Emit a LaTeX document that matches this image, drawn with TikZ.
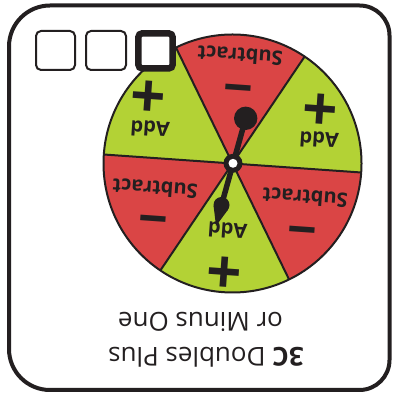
\documentclass[tikz,border=0pt]{standalone}
\usepackage{fontspec}
\setmainfont{Open Sans}
\definecolor{wred}{RGB}{218,69,69}
\definecolor{wgreen}{RGB}{179,210,53}
\definecolor{ink}{RGB}{35,31,32}
\begin{document}
\begin{tikzpicture}[x=1pt,y=1pt,
  lab/.style={font=\bfseries\fontsize{20}{20}\selectfont, rotate=176, inner sep=0, text=ink},
  plussym/.style={font=\bfseries\fontsize{62}{62}\selectfont, rotate=176, inner sep=0, text=ink},
  minussym/.style={font=\bfseries\fontsize{52}{52}\selectfont, rotate=176, inner sep=0, text=ink},
  titletext/.style={font=\fontsize{26}{26}\selectfont, rotate=180, inner sep=0, text=ink},
  divline/.style={draw=ink, line width=2pt},
  checkbox/.style={draw=ink, fill=white, line width=2pt, rounded corners=5pt},
  frame/.style={draw=ink, line width=4pt}]
\useasboundingbox (0,0) rectangle (393,398);
% outer frame
\draw[frame] (50,392.5) -- (359.5,392.5) arc[start angle=90,end angle=0,radius=30]
  -- (389.5,38) arc[start angle=0,end angle=-90,radius=30]
  -- (50,8) arc[start angle=270,end angle=180,radius=41]
  -- (9,351.5) arc[start angle=180,end angle=90,radius=41] -- cycle;
% wheel
\coordinate (C) at (232.5,234.5);
\fill[wgreen] (C) -- ++(-4:129) arc[start angle=-4,end angle=56,radius=129] -- cycle;
\fill[wred] (C) -- ++(56:129) arc[start angle=56,end angle=116,radius=129] -- cycle;
\fill[wgreen] (C) -- ++(116:129) arc[start angle=116,end angle=176,radius=129] -- cycle;
\fill[wred] (C) -- ++(176:129) arc[start angle=176,end angle=236,radius=129] -- cycle;
\fill[wgreen] (C) -- ++(236:129) arc[start angle=236,end angle=296,radius=129] -- cycle;
\fill[wred] (C) -- ++(296:129) arc[start angle=296,end angle=356,radius=129] -- cycle;
\foreach \a in {-4,56,116,176,236,296} \draw[divline] (C) -- ++(\a:129);
\draw[divline] (C) circle[radius=129];
% labels
\node[lab] (s1) at (240,342) {Subtract};
\node[minussym] (m1) at (239,318.5) {−};
\node[lab] (a1) at (150,269) {Add};
\node[plussym] (p1) at (149,305) {+};
\node[lab] (a2) at (319,258) {Add};
\node[plussym] (p2) at (321,292) {+};
\node[lab] (s2) at (155,209) {Subtract};
\node[minussym] (m2) at (154,187) {−};
\node[lab] (a3) at (227.5,167.5) {Add};
\node[plussym] (p3) at (225,129) {+};
\node[lab] (s3) at (305,200) {Subtract};
\node[minussym] (m3) at (302.5,176) {−};
% spinner
\coordinate (knob) at (245.7,279.7);
\coordinate (blob) at (221.5,193);
\coordinate (tip) at (216,172);
\draw[ink, line width=5.5pt] (knob) -- (blob);
\fill[ink] (knob) circle[radius=11.7];
\fill[ink] (blob) circle[radius=8];
\fill[ink] (tip) -- (213.6,192.05) -- (blob) -- (228.0,188.3) -- cycle;
\fill[ink] (233,234.7) circle[radius=9.5];
\fill[white] (233,234.7) circle[radius=4.5];
% boxes
\node[checkbox, minimum width=39pt, minimum height=39pt] (b1) at (55.5,347.5) {};
\node[checkbox, minimum width=40pt, minimum height=39pt] (b2) at (106,347.5) {};
\node[checkbox, line width=6.5pt, rounded corners=4pt, minimum width=34.4pt, minimum height=35.2pt] (b3) at (155.5,347.1) {};
% title
\node[titletext] (t1) at (206,41) {\textbf{3C} Doubles Plus};
\node[titletext] (t2) at (200.5,76.5) {or Minus One};
\end{tikzpicture}
\end{document}
